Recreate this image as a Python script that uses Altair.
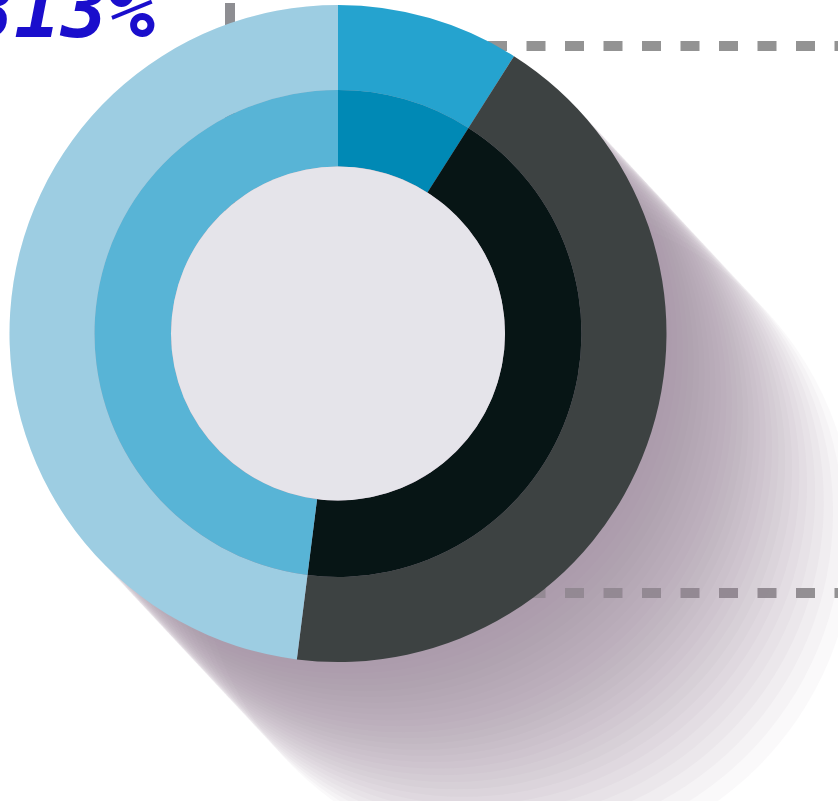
import math
import altair as alt
import pandas as pd

# ---- data ----
segments = ["Blue", "Dark", "Light blue"]
shares = [9, 43, 48]
outer_colors = ["#25a3cf", "#3d4242", "#9dcde2"]
inner_colors = ["#0089b5", "#071515", "#58b4d6"]
label_text = ["813%"]
dash_rows = [46, 593]

# ---- layout / style constants (pixels) ----
W, H = 838, 801
CX, CY = 338, 333.5
R_OUT, R_MID, R_IN = 328.5, 243.5, 167
SH_ANGLE = math.radians(47)    # direction of the long shadow
SH_LEN, SH_STEP = 280, 8       # travel of the shadow disc and base step between copies
SH_FADE_START = 110            # travel after which the copies thin out
SH_ALPHA = 13 / 255

# positions of the shadow copies: evenly spaced first, then thinning out
steps = []
t = 0.0
while t <= SH_LEN:
    steps.append(t)
    dens = max(5.5, 13 - 7.5 * max(0.0, (t - SH_FADE_START) / (SH_LEN - SH_FADE_START)))
    t += SH_STEP * 13 / dens

df = pd.DataFrame({
    "segment": segments,
    "share": shares,
    "idx": list(range(len(segments))),
    "outer_key": ["o_" + s for s in segments],
    "inner_key": ["i_" + s for s in segments],
})

xs = alt.Scale(domain=[0, W], nice=False, zero=False)
ys = alt.Scale(domain=[0, H], nice=False, zero=False, reverse=True)

shadow_df = pd.DataFrame({
    "sx": [CX + s * math.cos(SH_ANGLE) for s in steps],
    "sy": [CY + s * math.sin(SH_ANGLE) for s in steps],
})

label = alt.Chart(pd.DataFrame({"t": label_text})).mark_text(
    font="DejaVu Sans Mono", fontSize=78, fontWeight="bold", fontStyle="italic",
    color="#1a0ecc", align="right", baseline="alphabetic"
).encode(text="t:N", x=alt.value(155), y=alt.value(37))

vrule = alt.Chart(pd.DataFrame({"a": [0]})).mark_rule(
    strokeWidth=10, color="#8e8e92", strokeCap="butt"
).encode(x=alt.value(230), y=alt.value(3), y2=alt.value(CY))

dashes = alt.Chart(pd.DataFrame({"y": dash_rows})).mark_rule(
    strokeWidth=10, color="#939393", strokeDash=[19, 19.5], strokeCap="butt"
).encode(
    y=alt.Y("y:Q", scale=ys, axis=None),
    x=alt.value(334), x2=alt.value(W + 5),
)

shadow = alt.Chart(shadow_df).mark_circle(
    size=(2 * R_OUT) ** 2, color="#9d899d", opacity=SH_ALPHA
).encode(
    x=alt.X("sx:Q", scale=xs, axis=None),
    y=alt.Y("sy:Q", scale=ys, axis=None),
)

theta = alt.Theta("share:Q", stack=True)
outer = alt.Chart(df).mark_arc(outerRadius=R_OUT, innerRadius=R_MID).encode(
    theta=theta,
    order=alt.Order("idx:Q"),
    color=alt.Color("outer_key:N", legend=None,
                    scale=alt.Scale(domain=["o_" + s for s in segments], range=outer_colors)),
    x=alt.value(CX), y=alt.value(CY),
)
inner = alt.Chart(df).mark_arc(outerRadius=R_MID, innerRadius=R_IN).encode(
    theta=theta,
    order=alt.Order("idx:Q"),
    color=alt.Color("inner_key:N", legend=None,
                    scale=alt.Scale(domain=["i_" + s for s in segments], range=inner_colors)),
    x=alt.value(CX), y=alt.value(CY),
)
center = alt.Chart(pd.DataFrame({"a": [0]})).mark_arc(
    outerRadius=R_IN, innerRadius=0, theta=0, theta2=2 * math.pi, color="#e5e4ea"
).encode(x=alt.value(CX), y=alt.value(CY))

chart = alt.layer(label, vrule, dashes, shadow, outer, inner, center).resolve_scale(
    color="independent"
).properties(
    width=W, height=H, autosize=alt.AutoSizeParams(type="none"), padding=0
).configure_view(stroke=None)

chart.save("out.html", embed_options={"renderer": "svg", "actions": False})
